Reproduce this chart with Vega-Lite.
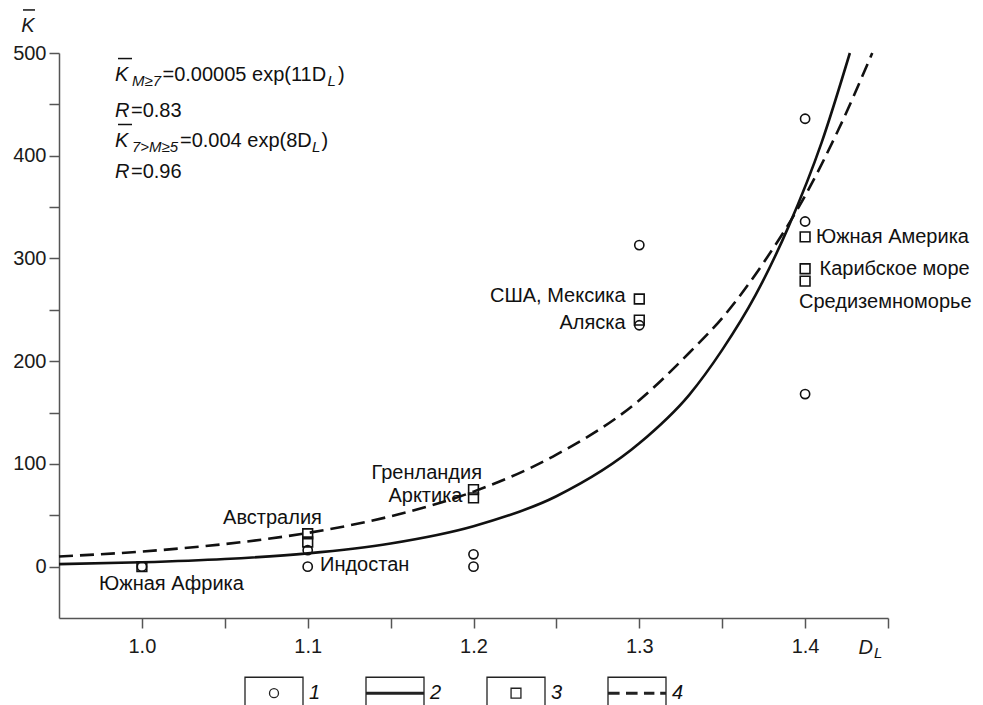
{
  "$schema": "https://vega.github.io/schema/vega-lite/v6.json",
  "width": 829,
  "height": 565,
  "autosize": "none",
  "padding": {"left": 59, "top": 53, "right": 95, "bottom": 87},
  "background": "white",
  "config": {
    "view": {"stroke": null},
    "font": "Liberation Sans",
    "axis": {
      "labelFont": "Liberation Sans",
      "labelFontSize": 20,
      "labelColor": "#1a1a1a",
      "titleFont": "Liberation Sans",
      "titleFontSize": 20,
      "titleFontWeight": "normal",
      "titleFontStyle": "italic",
      "titleColor": "#1a1a1a",
      "domainColor": "#555555",
      "domainWidth": 1.5,
      "tickColor": "#555555",
      "tickWidth": 1.5,
      "tickSize": 10,
      "grid": false,
      "labelOverlap": false,
      "labelFlush": false
    }
  },
  "datasets": {
    "solid": [
      {"D": 0.95, "K": 2.4}, {"D": 1.0, "K": 4.2}, {"D": 1.05, "K": 7.4}, {"D": 1.1, "K": 12.9},
      {"D": 1.15, "K": 22.5}, {"D": 1.2, "K": 39.3}, {"D": 1.25, "K": 68.5}, {"D": 1.3, "K": 120},
      {"D": 1.33, "K": 167}, {"D": 1.35, "K": 211}, {"D": 1.37, "K": 264}, {"D": 1.39, "K": 331},
      {"D": 1.41, "K": 413}, {"D": 1.427, "K": 500}
    ],
    "dashed": [
      {"D": 0.95, "K": 9.9}, {"D": 1.0, "K": 14.7}, {"D": 1.05, "K": 22}, {"D": 1.1, "K": 32.8},
      {"D": 1.15, "K": 49}, {"D": 1.2, "K": 73}, {"D": 1.25, "K": 109}, {"D": 1.3, "K": 162},
      {"D": 1.33, "K": 208}, {"D": 1.35, "K": 242}, {"D": 1.375, "K": 296}, {"D": 1.4, "K": 361},
      {"D": 1.42, "K": 425}, {"D": 1.4405, "K": 500}
    ],
    "circles": [
      {"D": 1.0, "K": 0}, {"D": 1.1, "K": 16}, {"D": 1.1, "K": 0}, {"D": 1.2, "K": 12}, {"D": 1.2, "K": 0},
      {"D": 1.3, "K": 313}, {"D": 1.3, "K": 235}, {"D": 1.4, "K": 436}, {"D": 1.4, "K": 336}, {"D": 1.4, "K": 168}
    ],
    "squares": [
      {"D": 1.0, "K": 0}, {"D": 1.1, "K": 32}, {"D": 1.1, "K": 24}, {"D": 1.2, "K": 75}, {"D": 1.2, "K": 67},
      {"D": 1.3, "K": 260.5}, {"D": 1.3, "K": 240}, {"D": 1.4, "K": 321}, {"D": 1.4, "K": 290}, {"D": 1.4, "K": 278}
    ],
    "lab_left": [
      {"D": 1.10742, "K": 1.5, "t": "Индостан"},
      {"D": 1.40657, "K": 320.9, "t": "Южная Америка"},
      {"D": 1.40868, "K": 289.7, "t": "Карибское море"},
      {"D": 1.39632, "K": 257.9, "t": "Средиземноморье"}
    ],
    "lab_right": [
      {"D": 1.20513, "K": 91.2, "t": "Гренландия"},
      {"D": 1.19337, "K": 68.8, "t": "Арктика"},
      {"D": 1.29179, "K": 263.5, "t": "США, Мексика"},
      {"D": 1.29179, "K": 237.2, "t": "Аляска"}
    ],
    "lab_center": [
      {"D": 1.01785, "K": -17, "t": "Южная Африка"},
      {"D": 1.07877, "K": 47.3, "t": "Австралия"}
    ],
    "f_italic": [
      {"D": 0.98378, "K": 472.7, "t": "K"},
      {"D": 0.98378, "K": 437.7, "t": "R"},
      {"D": 0.98378, "K": 408.5, "t": "K"},
      {"D": 0.98378, "K": 378.3, "t": "R"}
    ],
    "f_main": [
      {"D": 1.01242, "K": 472.7, "t": "=0.00005 exp(11D"},
      {"D": 1.11827, "K": 472.7, "t": ")"},
      {"D": 0.99343, "K": 437.7, "t": "=0.83"},
      {"D": 1.02298, "K": 408.5, "t": "=0.004 exp(8D"},
      {"D": 1.10832, "K": 408.5, "t": ")"},
      {"D": 0.99343, "K": 378.3, "t": "=0.96"}
    ],
    "f_sub": [
      {"D": 0.99403, "K": 472.7, "t": "M≥7"},
      {"D": 1.11194, "K": 472.7, "t": "L"},
      {"D": 0.99403, "K": 408.5, "t": "7>M≥5"},
      {"D": 1.10259, "K": 408.5, "t": "L"},
      {"D": 1.44155, "K": -84.07, "t": "L"}
    ],
    "bars": [
      {"D": 0.98559, "D2": 0.99403, "K": 494.6},
      {"D": 0.98559, "D2": 0.99403, "K": 430.4},
      {"D": 0.92829, "D2": 0.93552, "K": 541.9}
    ],
    "legend_items": [{"item": "1"}, {"item": "2"}, {"item": "3"}, {"item": "4"}]
  },
  "layer": [
    {
      "data": {"name": "dashed"},
      "mark": {"type": "line", "interpolate": "monotone", "color": "#111111", "strokeWidth": 2.6, "strokeDash": [14, 7]},
      "encoding": {
        "x": {
          "field": "D", "type": "quantitative",
          "scale": {"domain": [0.95, 1.45], "nice": false, "zero": false},
          "axis": {
            "title": "D", "titleX": 799, "titleY": 35, "titleAlign": "left", "titleBaseline": "alphabetic",
            "values": [1.0, 1.05, 1.1, 1.15, 1.2, 1.25, 1.3, 1.35, 1.4, 1.45],
            "labelExpr": "abs(round(datum.value*10) - datum.value*10) < 0.001 && datum.value < 1.44 ? format(datum.value, '.1f') : ''",
            "labelPadding": 8
          }
        },
        "y": {
          "field": "K", "type": "quantitative",
          "scale": {"domain": [-50, 500], "nice": false, "zero": false},
          "axis": {
            "title": "K", "titleAngle": 0, "titleX": -31.5, "titleY": -22, "titleAlign": "center", "titleBaseline": "alphabetic",
            "values": [0, 50, 100, 150, 200, 250, 300, 350, 400, 450, 500],
            "labelExpr": "datum.value % 100 === 0 ? datum.label : ''",
            "labelPadding": 3
          }
        }
      }
    },
    {
      "data": {"name": "solid"},
      "mark": {"type": "line", "interpolate": "monotone", "color": "#111111", "strokeWidth": 2.6},
      "encoding": {
        "x": {"field": "D", "type": "quantitative"},
        "y": {"field": "K", "type": "quantitative"}
      }
    },
    {
      "data": {"name": "circles"},
      "mark": {"type": "point", "shape": "circle", "filled": false, "size": 85, "stroke": "#111111", "strokeWidth": 1.6, "opacity": 1},
      "encoding": {
        "x": {"field": "D", "type": "quantitative"},
        "y": {"field": "K", "type": "quantitative"}
      }
    },
    {
      "data": {"name": "squares"},
      "mark": {"type": "point", "shape": "square", "filled": false, "size": 95, "stroke": "#111111", "strokeWidth": 1.6, "opacity": 1},
      "encoding": {
        "x": {"field": "D", "type": "quantitative"},
        "y": {"field": "K", "type": "quantitative"}
      }
    },
    {
      "data": {"name": "lab_left"},
      "mark": {"type": "text", "align": "left", "baseline": "middle", "fontSize": 20, "font": "Liberation Sans", "color": "#111111"},
      "encoding": {
        "x": {"field": "D", "type": "quantitative"},
        "y": {"field": "K", "type": "quantitative"},
        "text": {"field": "t"}
      }
    },
    {
      "data": {"name": "lab_right"},
      "mark": {"type": "text", "align": "right", "baseline": "middle", "fontSize": 20, "font": "Liberation Sans", "color": "#111111"},
      "encoding": {
        "x": {"field": "D", "type": "quantitative"},
        "y": {"field": "K", "type": "quantitative"},
        "text": {"field": "t"}
      }
    },
    {
      "data": {"name": "lab_center"},
      "mark": {"type": "text", "align": "center", "baseline": "middle", "fontSize": 20, "font": "Liberation Sans", "color": "#111111"},
      "encoding": {
        "x": {"field": "D", "type": "quantitative"},
        "y": {"field": "K", "type": "quantitative"},
        "text": {"field": "t"}
      }
    },
    {
      "data": {"name": "f_italic"},
      "mark": {"type": "text", "align": "left", "baseline": "alphabetic", "fontSize": 20, "fontStyle": "italic", "font": "Liberation Sans", "color": "#111111"},
      "encoding": {
        "x": {"field": "D", "type": "quantitative"},
        "y": {"field": "K", "type": "quantitative"},
        "text": {"field": "t"}
      }
    },
    {
      "data": {"name": "f_main"},
      "mark": {"type": "text", "align": "left", "baseline": "alphabetic", "fontSize": 20, "font": "Liberation Sans", "color": "#111111"},
      "encoding": {
        "x": {"field": "D", "type": "quantitative"},
        "y": {"field": "K", "type": "quantitative"},
        "text": {"field": "t"}
      }
    },
    {
      "data": {"name": "f_sub"},
      "mark": {"type": "text", "align": "left", "baseline": "alphabetic", "dy": 5, "fontSize": 15, "fontStyle": "italic", "font": "Liberation Sans", "color": "#111111", "clip": false},
      "encoding": {
        "x": {"field": "D", "type": "quantitative"},
        "y": {"field": "K", "type": "quantitative"},
        "text": {"field": "t"}
      }
    },
    {
      "data": {"name": "bars"},
      "mark": {"type": "rule", "color": "#111111", "strokeWidth": 1.5, "clip": false},
      "encoding": {
        "x": {"field": "D", "type": "quantitative"},
        "x2": {"field": "D2"},
        "y": {"field": "K", "type": "quantitative"}
      }
    },
    {
      "data": {"name": "legend_items"},
      "mark": {"type": "point", "opacity": 0},
      "encoding": {
        "shape": {
          "field": "item", "type": "nominal",
          "scale": {
            "domain": ["1", "2", "3", "4"],
            "range": [
              "M-1,1L-1,-0.55L1,-0.55L1,1M0.155,0A0.155,0.155,0,1,1,-0.155,0A0.155,0.155,0,1,1,0.155,0",
              "M-1,1L-1,-0.55L1,-0.55L1,1M-1,0L1,0M-1,0.03L1,0.03M-1,-0.03L1,-0.03",
              "M-1,1L-1,-0.55L1,-0.55L1,1M-0.17,-0.17L0.17,-0.17L0.17,0.17L-0.17,0.17Z",
              "M-1,1L-1,-0.55L1,-0.55L1,1M-1,0L-0.6,0M-0.38,0L0.02,0M0.24,0L0.6,0M0.8,0L1,0M-1,0.03L-0.6,0.03M-0.38,0.03L0.02,0.03M0.24,0.03L0.6,0.03M0.8,0.03L1,0.03M-1,-0.03L-0.6,-0.03M-0.38,-0.03L0.02,-0.03M0.24,-0.03L0.6,-0.03M0.8,-0.03L1,-0.03"
            ]
          },
          "legend": {
            "orient": "none", "legendX": 185, "legendY": 610, "direction": "horizontal", "title": null,
            "symbolSize": 3364, "symbolStrokeWidth": 1.3, "symbolStrokeColor": "#222222",
            "symbolFillColor": "transparent", "symbolOpacity": 1,
            "labelFont": "Liberation Sans", "labelFontSize": 20, "labelFontStyle": "italic", "labelColor": "#111111",
            "labelOffset": 5, "columnPadding": 42,
            "encode": {"symbols": {"update": {"opacity": {"value": 1}, "fill": {"value": "transparent"}, "stroke": {"value": "#222222"}, "strokeWidth": {"value": 1.3}}}}
          }
        }
      }
    }
  ]
}
